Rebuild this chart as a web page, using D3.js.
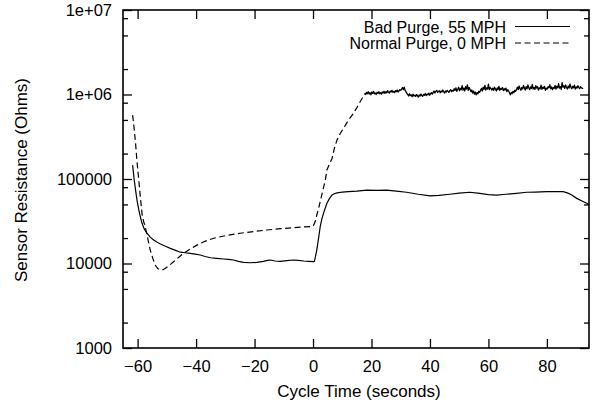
<!DOCTYPE html>
<html><head><meta charset="utf-8">
<script src="https://cdn.jsdelivr.net/npm/d3@7"></script>
<style>
body{margin:0;background:#fff}
text{font-family:"Liberation Sans",Arial,Helvetica,sans-serif;fill:#000}
</style>
</head><body>
<svg id="chart" width="594" height="404"></svg>
<script>
// ---------------- data ----------------
const xTicks = [-60, -40, -20, 0, 20, 40, 60, 80];
const yTicks = [1000, 10000, 100000, 1000000, 10000000];
const yTickLabels = ["1000", "10000", "100000", "1e+06", "1e+07"];
const yMinorTicks = [2e3,5e3,8e3,2e4,5e4,8e4,2e5,5e5,8e5,2e6,5e6,8e6];
const seriesNames = ["Bad Purge, 55 MPH", "Normal Purge, 0 MPH"];

// Bad Purge, 55 MPH (solid)
const badTime = [-61.7,-61.2,-60.7,-60.2,-59.6,-59.0,-58.5,-57.7,-56.8,-55.7,-54.5,-53.3,-52.2,-50.5,-48.8,-47.0,-45.4,-43.7,-42.0,-40.3,-38.6,-36.9,-35.1,-33.0,-30.6,-29.0,-27.2,-25.5,-23.8,-21.5,-19.2,-17.0,-15.5,-14.6,-13.0,-11.2,-9.0,-6.7,-5.0,-3.2,-1.5,0.1,0.5,1.3,1.9,2.45,3.0,3.6,4.2,4.75,5.6,6.5,7.3,8.2,10,12,15,18.4,21.8,25.2,28.5,32,36,40,43,46.8,50,53.6,57,60,62.7,66,69.6,73.1,76,79.9,83,85.6,87.2,88.5,90.2,92,93.6,94.4];
const badValue = [146000,100000,74000,56000,43000,35000,29900,25500,22800,20500,19000,17800,17000,16000,15100,14300,13600,13400,13200,12900,12600,12100,11700,11500,11300,11200,11000,10600,10300,10200,10300,10600,10900,11000,10700,10600,10800,11000,10900,10700,10600,10500,10600,14500,20000,27200,33500,39300,45500,51600,58500,64700,67000,68500,70000,71000,72000,74000,73500,74000,72000,69700,66000,63000,64000,66000,68000,69700,67500,65500,64600,66000,67700,69700,70000,70800,71000,70800,68000,64700,59000,55000,51600,50000];

// Normal Purge, 0 MPH (dashed) – drop and rise
const normalTime = [-61.7,-61.2,-60.7,-60.2,-59.6,-59.0,-58.5,-57.9,-57.4,-56.5,-55.7,-54.8,-54.0,-53.1,-52.2,-51.3,-50.5,-49.0,-47.7,-46.0,-44.3,-42.0,-39.7,-37.0,-34.0,-29.5,-24.9,-20.0,-15.8,-11.0,-6.7,-3.0,-0.4,0.1,0.75,1.3,1.9,2.45,3.3,4.2,4.75,5.6,6.5,7.3,8.2,9.3,10.4,12.0,13.8,15.0,16.1,17.0,17.8];
const normalValue = [571000,400000,263000,160000,97000,58000,39000,31000,27300,19500,14500,11500,9600,8700,8380,8450,8770,9600,10500,11800,13200,14900,16500,18300,19900,21500,22800,24000,24900,25800,26500,27200,27300,28000,31300,37500,45000,54000,72000,97000,128000,150000,175000,230000,290000,345000,398000,490000,598000,700000,822000,920000,1030000];
// Normal Purge plateau, sampled every 0.3 s from 18.0 s (values in MOhm)
const plateauStart = 18.0, plateauStep = 0.3;
const normalPlateauMOhm = [
1.00,1.06,1.02,1.08,1.01,1.05,0.99,1.07,1.03,1.09,1.02,1.04,1.00,1.06,1.03,1.08,1.02,
1.05,1.01,1.07,1.04,1.09,1.03,1.08,1.05,1.11,1.06,1.04,1.10,1.07,1.12,1.06,1.09,1.05,1.11,1.08,1.13,1.07,1.10,1.14,
1.12,1.16,1.21,1.14,1.22,1.12,1.08,1.03,
1.00,0.96,1.02,0.97,0.99,0.94,1.01,0.96,0.98,0.95,1.00,0.97,0.93,0.99,0.96,1.01,0.97,0.95,1.00,0.98,1.03,0.97,1.01,0.99,1.04,0.98,1.02,1.05,1.01,
1.06,1.10,1.04,1.09,1.12,1.06,1.08,1.11,1.05,1.10,1.07,1.13,1.08,1.04,1.10,1.07,1.12,1.09,1.06,1.11,1.14,1.08,1.12,
1.10,1.17,1.12,1.20,1.09,1.15,1.22,1.11,1.18,1.14,1.27,1.13,1.19,1.10,1.24,1.16,1.30,1.12,1.21,1.15,
1.08,1.13,1.04,1.10,1.01,1.07,0.99,1.05,1.02,1.09,1.06,
1.12,1.18,1.10,1.22,1.15,1.28,1.13,1.20,1.16,1.33,1.14,1.21,1.17,
1.13,1.19,1.12,1.22,1.16,1.10,1.20,1.14,1.25,1.12,1.18,1.15,1.21,1.11,1.17,1.13,1.19,1.08,1.14,1.10,
1.05,0.99,1.06,1.02,1.09,1.05,1.12,1.09,
1.15,1.22,1.14,1.26,1.18,1.12,1.21,1.16,1.28,1.19,1.13,1.24,1.17,1.30,1.20,1.14,1.23,1.18,1.32,1.16,
1.21,1.15,1.27,1.19,1.24,1.13,1.20,1.17,1.29,1.15,1.22,1.18,1.25,1.12,1.19,1.16,1.24,1.20,1.31,1.17,
1.23,1.14,1.21,1.18,1.28,1.16,1.25,1.20,1.34,1.19,1.24,1.15,1.38,1.22,1.27,1.18,1.30,1.21,1.16,1.26,
1.19,1.33,1.22,1.17,1.25,1.20,1.29,1.16,1.23,1.19,1.27,1.21,1.17,1.24,1.20,1.18,1.19
];

// ---------------- chart ----------------
const m = {left: 123, right: 589, top: 10, bottom: 348};
const svg = d3.select("#chart");
const x = d3.scaleLinear().domain([-65, 94.4]).range([m.left, m.right]);
const y = d3.scaleLog().domain([1000, 1e7]).range([m.bottom, m.top]);

const badData = badTime.map((t, i) => ({t, v: badValue[i]}));
const normalRise = normalTime.map((t, i) => ({t, v: normalValue[i]}));
const normalPlateau = normalPlateauMOhm.map((v, i) => ({t: plateauStart + i * plateauStep, v: v * 1e6}));
const normalPlateauPath = [normalRise[normalRise.length - 1]].concat(normalPlateau);

const FS = "16.5px", FT = "17px", FL = "16px";

const gB = svg.append("g").attr("transform", `translate(0,${m.bottom})`)
  .call(d3.axisBottom(x).tickValues(xTicks).tickFormat(d3.format("d")).tickSize(-9).tickSizeOuter(0).tickPadding(12));
const gT = svg.append("g").attr("transform", `translate(0,${m.top})`)
  .call(d3.axisTop(x).tickValues(xTicks).tickFormat("").tickSize(-9).tickSizeOuter(0));
const gL = svg.append("g").attr("transform", `translate(${m.left},0)`)
  .call(d3.axisLeft(y).tickValues(yTicks).tickFormat((d, i) => yTickLabels[i]).tickSize(-9).tickSizeOuter(0).tickPadding(11));
const gLm = svg.append("g").attr("transform", `translate(${m.left},0)`)
  .call(d3.axisLeft(y).tickValues(yMinorTicks).tickFormat("").tickSize(-5).tickSizeOuter(0));
const gR = svg.append("g").attr("transform", `translate(${m.right},0)`)
  .call(d3.axisRight(y).tickValues(yTicks).tickFormat("").tickSize(-9).tickSizeOuter(0));
const gRm = svg.append("g").attr("transform", `translate(${m.right},0)`)
  .call(d3.axisRight(y).tickValues(yMinorTicks).tickFormat("").tickSize(-5).tickSizeOuter(0));

[gB, gT, gL, gLm, gR, gRm].forEach(g => {
  g.select(".domain").remove();
  g.selectAll(".tick line").attr("stroke", "#000").attr("stroke-width", 1.3);
  g.selectAll(".tick text").style("font-size", FS).attr("font-family", null);
});

svg.append("rect").attr("x", m.left).attr("y", m.top)
  .attr("width", m.right - m.left).attr("height", m.bottom - m.top)
  .attr("fill", "none").attr("stroke", "#000").attr("stroke-width", 1.6);

const line = d3.line().x(d => x(d.t)).y(d => y(d.v));
svg.append("path").datum(badData).attr("d", line)
  .attr("fill", "none").attr("stroke", "#000").attr("stroke-width", 1.2);
svg.append("path").datum(normalRise).attr("d", line)
  .attr("fill", "none").attr("stroke", "#000").attr("stroke-width", 1.2)
  .attr("stroke-dasharray", "6,3.5");
// dense noisy plateau: dashes merge visually into a continuous band in the reference
svg.append("path").datum(normalPlateauPath).attr("d", line)
  .attr("fill", "none").attr("stroke", "#000").attr("stroke-width", 1.3)
  .attr("stroke-linejoin", "round");

svg.append("text").attr("x", 359).attr("y", 397)
  .attr("text-anchor", "middle").style("font-size", FT).text("Cycle Time (seconds)");
svg.append("text").attr("transform", `translate(27,${(m.top + m.bottom) / 2 + 1}) rotate(-90)`)
  .attr("text-anchor", "middle").style("font-size", FT).text("Sensor Resistance (Ohms)");

const legend = svg.append("g");
seriesNames.forEach((name, i) => {
  const by = 32.5 + i * 16.5;
  legend.append("text").attr("x", 506).attr("y", by).attr("text-anchor", "end")
    .style("font-size", FL).text(name);
  legend.append("line").attr("x1", 515).attr("x2", 570).attr("y1", by - 6).attr("y2", by - 6)
    .attr("stroke", "#000").attr("stroke-width", 1.2)
    .attr("stroke-dasharray", i === 1 ? "6,3.5" : null);
});
</script>
</body></html>
